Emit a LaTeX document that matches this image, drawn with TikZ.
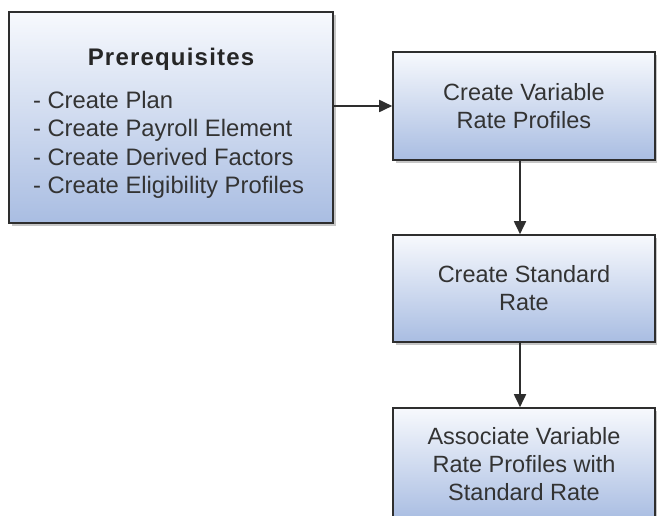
\documentclass[tikz,border=0pt]{standalone}
\usepackage{fontspec}
\setmainfont{Liberation Sans}
\usetikzlibrary{arrows.meta,positioning,shadows}

\definecolor{boxtop}{HTML}{F7F9FD}
\definecolor{boxbot}{HTML}{A9BDE2}
\definecolor{boxline}{HTML}{2E2E2E}
\definecolor{boxtext}{HTML}{333333}

\begin{document}
\begin{tikzpicture}[x=1pt,y=-1pt,>={Triangle[length=13pt,width=12pt]},
    task/.style={draw=boxline,line width=1.6pt,top color=boxtop,bottom color=boxbot,
        drop shadow={shadow xshift=3pt,shadow yshift=-3pt,opacity=0.45,fill=gray},
        text=boxtext,align=center,minimum width=262pt,minimum height=107pt,
        font=\fontsize{23.5}{28}\selectfont},
    flow/.style={->,color=boxline,line width=1.8pt}]

                \useasboundingbox (0,0) rectangle (657,516);

                \node[task,minimum width=324pt,minimum height=211pt] (prereq) at (171,117.5)
                    {\parbox{276pt}{\vspace*{12pt}\centering{\fontsize{24}{28}\selectfont\addfontfeatures{LetterSpace=5}\bfseries\color{black!85}Prerequisites}\par
                     \vspace{14pt}\raggedright\fontsize{23.8}{28.5}\selectfont
                     - Create Plan\\
                     - Create Payroll Element\\
                     - Create Derived Factors\\
                     - Create Eligibility Profiles}};

                \node[task,minimum height=108pt] (varrate) at (524,106) {Create Variable\\Rate Profiles};

                \node[task] (stdrate) at (524,288.5) {Create Standard\\Rate};

                \node[task,minimum height=112pt] (assoc) at (524,464) {Associate Variable\\Rate Profiles with\\Standard Rate};

                

                \path[flow] (prereq.east |- varrate.west) edge (varrate.west)

                            ([xshift=-4pt]varrate.south) edge ([xshift=-4pt]stdrate.north)

                            ([xshift=-4pt]stdrate.south) edge ([xshift=-4pt]assoc.north);

            \end{tikzpicture}
\end{document}
